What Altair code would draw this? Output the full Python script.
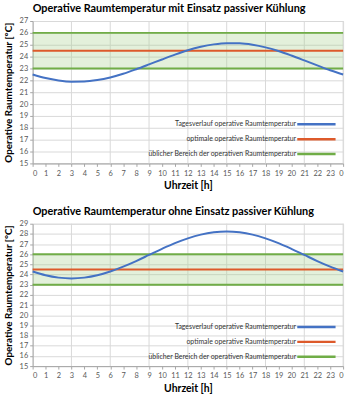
import altair as alt
import pandas as pd

# ---- data ----
hours = list(range(25))
temp_with = [22.49, 22.19, 21.99, 21.89, 21.90, 22.02, 22.24, 22.55, 22.93, 23.34,
             23.76, 24.17, 24.54, 24.83, 25.03, 25.13, 25.12, 25.00, 24.78, 24.47,
             24.09, 23.68, 23.26, 22.85, 22.49]
temp_without = [24.30, 23.93, 23.70, 23.62, 23.70, 23.93, 24.30, 24.78, 25.33, 25.93,
                26.53, 27.09, 27.56, 27.93, 28.16, 28.24, 28.16, 27.93, 27.56, 27.09,
                26.53, 25.93, 25.33, 24.78, 24.30]
optimum = [24.5]
band_limits = [23, 26]
day_span = [0, 24]
grid_hours = [3, 6, 9, 12, 15, 18, 21, 24]
series_labels = [
    "Tagesverlauf operative Raumtemperatur",
    "optimale operative Raumtemperatur",
    "üblicher Bereich der operativen Raumtemperatur",
]
series_colors = ["#4472c4", "#dd5a2b", "#70ad47"]
panel_titles = [
    "Operative Raumtemperatur mit Einsatz passiver Kühlung",
    "Operative Raumtemperatur ohne Einsatz passiver Kühlung",
]
y_max = [27, 29]

FONT = "Lato"
W, H = 314, 144


def panel(title, temps, ymax):
    xscale = alt.Scale(domain=day_span, nice=False)
    yscale = alt.Scale(domain=[15, ymax], nice=False)
    cscale = alt.Scale(domain=series_labels, range=series_colors)

    xaxis = alt.Axis(values=hours, labelExpr="datum.value % 24", title="Uhrzeit [h]",
                     grid=False, tickSize=3, labelFontSize=7.5, labelColor="#595959",
                     titleFontSize=10.5, titleFontWeight="bold", titleColor="#000000",
                     domainColor="#a6a6a6", tickColor="#a6a6a6", labelPadding=3,
                     titlePadding=4, labelFont=FONT, titleFont=FONT, labelOverlap=False)
    yaxis = alt.Axis(values=list(range(15, ymax + 1)), title="Operative Raumtemperatur [°C]",
                     grid=True, gridColor="#d9d9d9", tickSize=3, labelFontSize=7.5,
                     labelColor="#595959", titleFontSize=10, titleFontWeight="bold",
                     titleColor="#000000", domainColor="#a6a6a6", tickColor="#a6a6a6",
                     labelPadding=2, titlePadding=6, labelFont=FONT, titleFont=FONT,
                     labelOverlap=False)

    legend = alt.Legend(orient="none", legendX=281.5, legendY=99, title=None,
                        symbolType="M-5,0H5", symbolSize=60, symbolStrokeWidth=2.5,
                        symbolFillColor="transparent",
                        labelAlign="right", labelOffset={"expr": "-26"}, labelFontSize=7,
                        labelFont=FONT, labelColor="#333333",
                        rowPadding=4, padding=0, labelLimit=300)
    color = alt.Color("series:N", scale=cscale, legend=legend)

    X = lambda f: alt.X(f, scale=xscale, axis=xaxis)
    Y = lambda f: alt.Y(f, scale=yscale, axis=yaxis)

    vgrid = alt.Chart(pd.DataFrame({"h": grid_hours})).mark_rule(
        color="#d9d9d9", strokeWidth=1).encode(x=X("h:Q"))

    band = alt.Chart(pd.DataFrame({"x0": [day_span[0]], "x1": [day_span[1]],
                                   "lo": [band_limits[0]], "hi": [band_limits[1]]})).mark_rect(
        color="#a9d18e", opacity=0.32).encode(
        x=X("x0:Q"), x2="x1:Q", y=Y("lo:Q"), y2="hi:Q")

    green = alt.Chart(pd.DataFrame({"v": band_limits,
                                    "series": [series_labels[2]] * len(band_limits)})
                      ).mark_rule(strokeWidth=2).encode(y=Y("v:Q"), color=color)

    orange = alt.Chart(pd.DataFrame({"v": optimum, "series": [series_labels[1]]})
                       ).mark_rule(strokeWidth=2).encode(y=Y("v:Q"), color=color)

    curve = alt.Chart(pd.DataFrame({"h": hours, "t": temps,
                                    "series": [series_labels[0]] * len(hours)})).mark_line(
        strokeWidth=2, interpolate="monotone").encode(
        x=X("h:Q"), y=Y("t:Q"), color=color)

    return alt.layer(vgrid, band, green, orange, curve).properties(
        width=W, height=H,
        title=alt.TitleParams(title, anchor="start", frame="group", fontSize=11, font=FONT,
                              fontWeight="bold", color="#000000", offset=3))


top = panel(panel_titles[0], temp_with, y_max[0])
bottom = panel(panel_titles[1], temp_without, y_max[1])

chart = alt.vconcat(top, bottom, spacing=13).resolve_scale(
    color="independent").resolve_legend(color="independent").properties(
    padding={"left": 2, "top": 0, "right": 5, "bottom": 0}
).configure_view(stroke=None).configure(background="white")

chart.save("out.html", embed_options={"renderer": "svg", "actions": False})
